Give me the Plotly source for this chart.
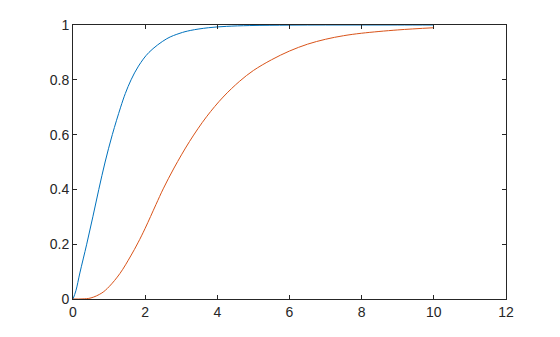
import plotly.graph_objects as go

# Blue curve
blue_x = [0, 0.08, 0.19, 0.38, 0.55, 0.715, 0.89, 1.09, 1.32, 1.45, 1.61, 1.815, 2.105,
          2.60, 2.965, 3.25, 3.75, 4.25, 4.9, 6.0, 7.0, 8.0, 9.0, 10.0]
blue_y = [0, 0.03, 0.095, 0.2, 0.3, 0.4, 0.5, 0.6, 0.7, 0.75, 0.8, 0.85, 0.9,
          0.95, 0.97, 0.98, 0.99, 0.995, 0.998, 0.9995, 1, 1, 1, 1]

# Orange curve
orange_x = [0, 0.25, 0.5, 0.8, 1.0, 1.3, 1.6, 1.8, 2.0, 2.3, 2.5, 2.8, 3.23, 3.7, 4.16,
            4.62, 5.0, 5.5, 6.0, 6.5, 7.0, 7.5, 8.0, 9.0, 10.0]
orange_y = [0, 0.0003, 0.004, 0.022, 0.045, 0.093, 0.157, 0.205, 0.258, 0.345, 0.402, 0.478,
            0.575, 0.665, 0.737, 0.795, 0.834, 0.873, 0.905, 0.93, 0.948, 0.961, 0.970,
            0.982, 0.990]

x_ticks = [0, 2, 4, 6, 8, 10, 12]
y_ticks = [0, 0.2, 0.4, 0.6, 0.8, 1]
y_labels = ["0", "0.2", "0.4", "0.6", "0.8", "1"]

fig = go.Figure()
fig.add_trace(go.Scatter(x=blue_x, y=blue_y, mode="lines",
                         line=dict(color="#0072BD", width=1, shape="spline", smoothing=1)))
fig.add_trace(go.Scatter(x=orange_x, y=orange_y, mode="lines",
                         line=dict(color="#D95319", width=1, shape="spline", smoothing=1)))

axis_common = dict(showgrid=False, zeroline=False, showline=True, linecolor="#262626",
                   linewidth=1, mirror="ticks", ticks="inside", ticklen=4, tickwidth=1,
                   tickcolor="#262626", tickfont=dict(family="Liberation Sans, Arial", size=14,
                                                       color="#262626"))
fig.update_xaxes(range=[0, 12], tickvals=x_ticks, ticktext=[str(v) for v in x_ticks],
                 **axis_common)
fig.update_yaxes(range=[0, 1], tickvals=y_ticks, ticktext=y_labels, **axis_common)
fig.update_layout(width=560, height=337, showlegend=False,
                  margin=dict(l=73, r=54, t=25, b=38),
                  plot_bgcolor="white", paper_bgcolor="white")
fig.write_html("out.html")
